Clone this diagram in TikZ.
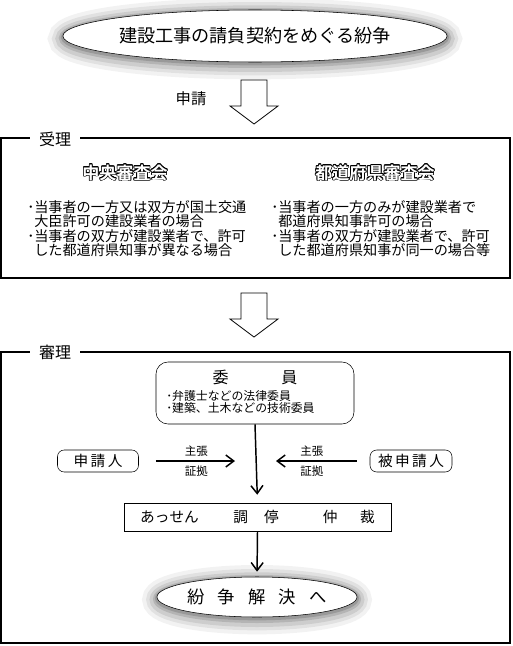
\documentclass[tikz,border=0pt]{standalone}
\usepackage{fontspec}
\setmainfont{Noto Sans CJK JP}[BoldFont={Noto Sans CJK JP Bold}]
\usepackage{contour}
\contourlength{0.45pt}
\usetikzlibrary{arrows.meta,shapes.geometric,positioning}

\tikzset{
  halo/.style={
    preaction={draw=black,draw opacity=.05,line width=22pt,transform canvas={yshift=-2pt}},
    preaction={draw=black,draw opacity=.07,line width=16pt,transform canvas={yshift=-2pt}},
    preaction={draw=black,draw opacity=.09,line width=11pt,transform canvas={yshift=-2pt}},
    preaction={draw=black,draw opacity=.12,line width=6pt,transform canvas={yshift=-1.5pt}},
    preaction={draw=black,draw opacity=.15,line width=3pt,transform canvas={yshift=-1pt}}},
  oval/.style={ellipse,draw,fill=white,halo,inner sep=0pt},
  frame/.style={draw,line width=1.5pt},
  framelabel/.style={fill=white,inner xsep=7pt,font=\fontsize{12}{12}\selectfont},
  heading/.style={text=white,font=\bfseries\fontsize{12.8}{13}\selectfont},
  bullets/.style={align=left,anchor=west,inner sep=0pt,font=\fontsize{10.6}{10.7}\selectfont},
  party/.style={draw,rounded corners=5pt,minimum height=16.5pt,inner sep=0pt,font=\fontsize{11}{11}\selectfont},
  arr/.style={line width=1.1pt,-{Straight Barb[length=6pt,width=9pt]}},
  note/.style={font=\fontsize{8.6}{9}\selectfont,inner sep=3pt}
}

\begin{document}
\begin{tikzpicture}[x=0.75pt,y=-0.75pt]
  \useasboundingbox (0,0) rectangle (512,646);

  % top of the chart
  \node[oval,minimum width=228pt,minimum height=39pt,font=\fontsize{13.6}{14}\selectfont]
    (dispute) at (255,36) {建設工事の請負契約をめぐる紛争};
  \node[font=\fontsize{11.5}{12}\selectfont] (shinsei) at (191,99) {申請};

  % block arrows
  \foreach \t in {80,293}
    \draw[line width=0.6pt,fill=white] (241,\t) -- (267,\t) -- (267,\t+26) -- (278,\t+26)
      -- (254,\t+44) -- (230,\t+26) -- (241,\t+26) -- cycle;

  % acceptance
  \draw[frame] (1,138) rectangle (510,278);
  \node[framelabel] (juri) at (55,139) {受理};
  \node[heading] (chuo) at (125,173) {\contour{black}{中央審査会}};
  \node[heading] (todofuken) at (375,173) {\contour{black}{都道府県審査会}};
  \node[bullets] (chuotext) at (27,228.5)
    {･当事者の一方又は双方が国土交通\\
     \hspace{0.5em}大臣許可の建設業者の場合\\
     ･当事者の双方が建設業者で、許可\\
     \hspace{0.5em}した都道府県知事が異なる場合};
  \node[bullets] (todofukentext) at (271,228.5)
    {･当事者の一方のみが建設業者で\\
     \hspace{0.5em}都道府県知事許可の場合\\
     ･当事者の双方が建設業者で、許可\\
     \hspace{0.5em}した都道府県知事が同一の場合等};

  % hearing
  \draw[frame] (1,352) rectangle (510,643);
  \node[framelabel] (shinri) at (55,352) {審理};

  \node[draw,rounded corners=9pt,minimum width=148.5pt,minimum height=46.5pt]
    (iin) at (255,393) {};
  \node[font=\fontsize{12}{12}\selectfont] (iintitle) at (255,377) {委\hspace{3.3em}員};
  \node[bullets,font=\fontsize{8.9}{8.2}\selectfont] (iintext) at (166,402)
    {･弁護士などの法律委員\\ ･建築、土木などの技術委員};

  \node[party,minimum width=60.75pt] (applicant) at (98,461) {申\,請\,人};
  \node[party,minimum width=61.5pt] (respondent) at (411,461) {被\,申\,請\,人};

  \node[draw,minimum width=200pt,minimum height=21pt,inner sep=0pt,font=\fontsize{11}{11}\selectfont]
    (assen) at (257.5,517)
    {あっせん\hspace{26pt}調\hspace{12pt}停\hspace{33pt}仲\hspace{17pt}裁};

  \node[oval,minimum width=150pt,minimum height=30pt,font=\fontsize{13}{13}\selectfont]
    (result) at (257,597) {紛\hspace{10pt}争\hspace{10pt}解\hspace{10pt}決\hspace{10pt}へ};

  % connectors
  \coordinate (meet) at (254,461);
  \draw[arr,shorten <=12.75pt,shorten >=14.25pt] (applicant.east) -- (meet)
    node[note,midway,above] {主張} node[note,midway,below] {証拠};
  \draw[arr,shorten <=9.75pt,shorten >=16.5pt] (respondent.west) -- (meet)
    node[note,midway,above] {主張} node[note,midway,below] {証拠};
  \draw[arr,shorten >=6pt] (iin.south) -- (assen.north);
  \draw[arr,shorten >=3.75pt] (assen.south) -- (result.north);
\end{tikzpicture}
\end{document}
